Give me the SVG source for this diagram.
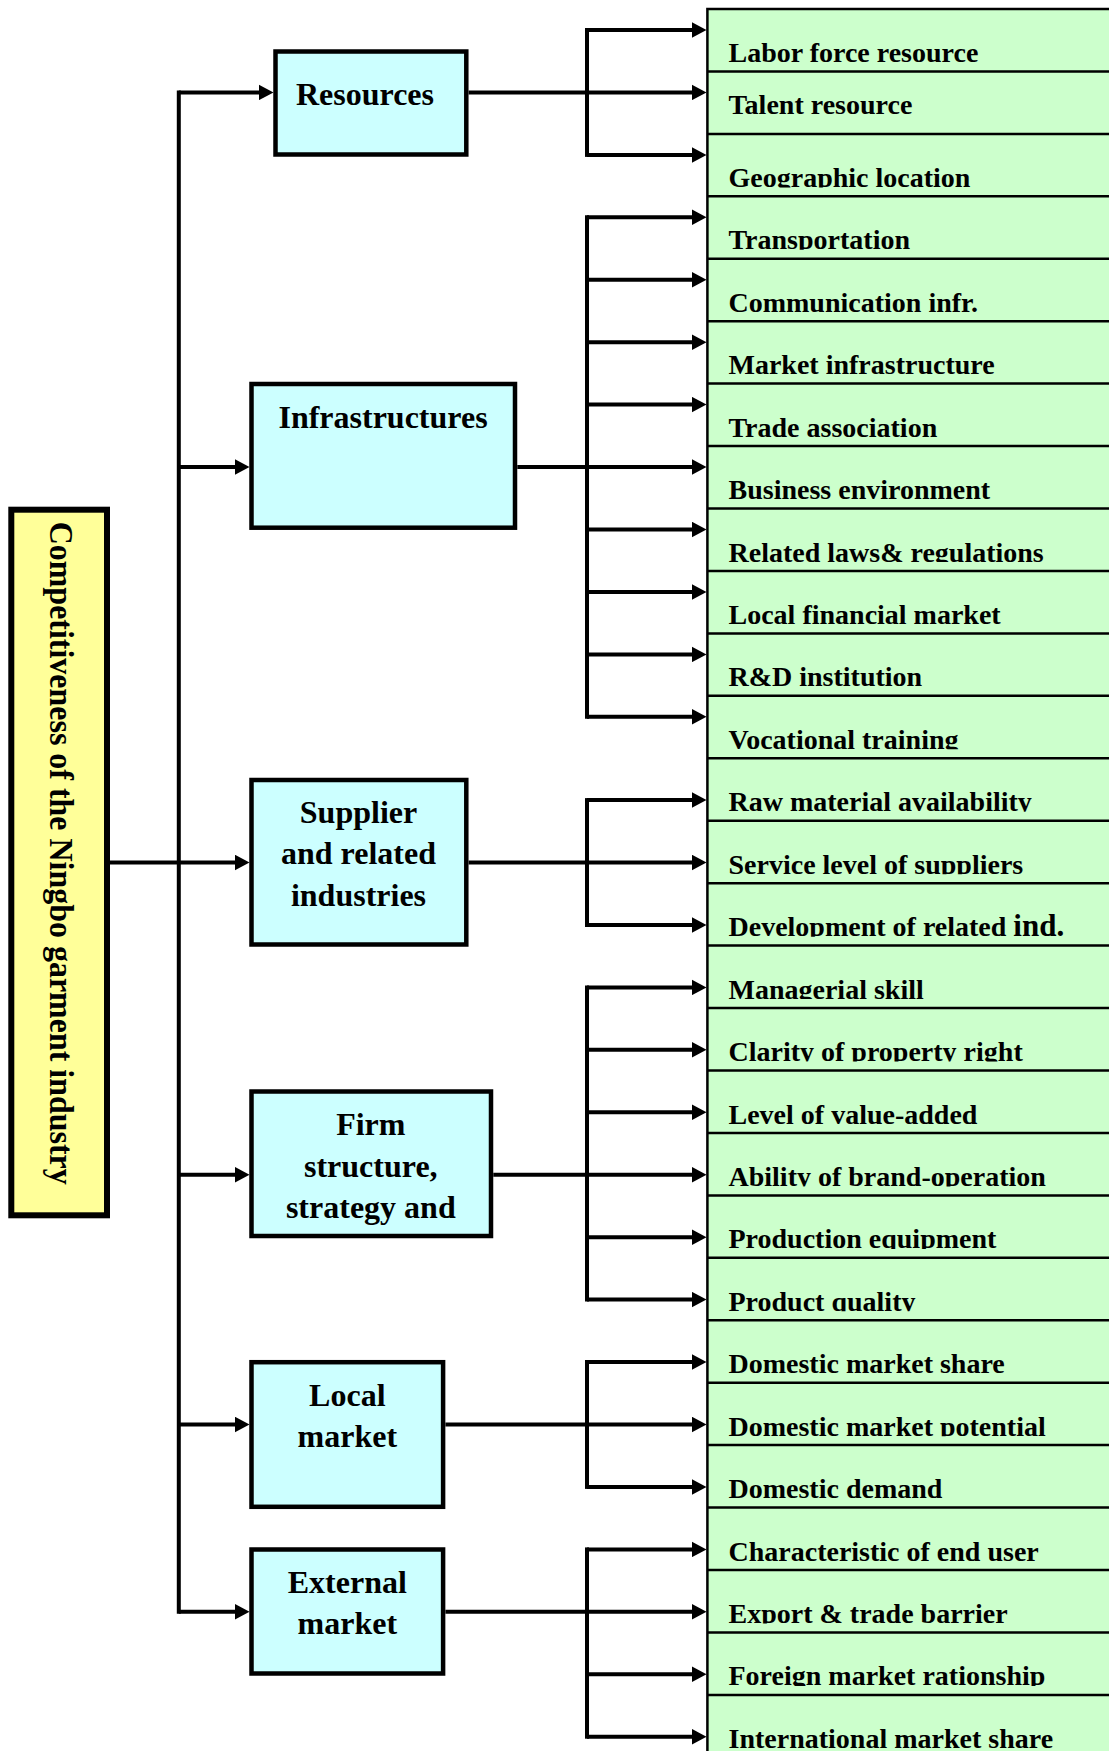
<svg xmlns="http://www.w3.org/2000/svg" width="1109" height="1751" viewBox="0 0 1109 1751">
<style>
.box{fill:#CCFFFF;stroke:#000;stroke-width:4.5}
.root{fill:#FFFF99;stroke:#000;stroke-width:6}
.col{fill:#CCFFCC;stroke:#000;stroke-width:2.5}
.sep{stroke:#000;stroke-width:2.5}
.lbl{font-family:"Liberation Serif","Times New Roman",serif;font-weight:bold;font-size:32px;fill:#000;text-anchor:middle}
.item{font-family:"Liberation Serif","Times New Roman",serif;font-weight:bold;font-size:28px;fill:#000}
.title{font-family:"Liberation Serif","Times New Roman",serif;font-weight:bold;font-size:34px;fill:#000}
.br{stroke:#000;stroke-width:4;fill:none;stroke-linecap:square}
.ar{stroke:#000;stroke-width:4;fill:none;marker-end:url(#ah)}
</style>
<defs>
<marker id="ah" markerUnits="userSpaceOnUse" viewBox="0 0 16 16" markerWidth="16" markerHeight="16" refX="7.5" refY="8" orient="auto">
<path d="M0,0 L15,8 L0,16 z" fill="#000"/>
</marker>
<clipPath id="rowclip">
<rect x="700" y="9" width="420" height="53.5"/>
<rect x="700" y="71.4" width="420" height="62"/>
<rect x="700" y="133.9" width="420" height="53.5"/>
<rect x="700" y="196.3" width="420" height="53.5"/>
<rect x="700" y="258.8" width="420" height="53.5"/>
<rect x="700" y="321.2" width="420" height="53.5"/>
<rect x="700" y="383.6" width="420" height="53.5"/>
<rect x="700" y="446.1" width="420" height="53.5"/>
<rect x="700" y="508.5" width="420" height="53.5"/>
<rect x="700" y="571" width="420" height="53.5"/>
<rect x="700" y="633.4" width="420" height="53.5"/>
<rect x="700" y="695.8" width="420" height="53.5"/>
<rect x="700" y="758.3" width="420" height="53.5"/>
<rect x="700" y="820.7" width="420" height="53.5"/>
<rect x="700" y="883.2" width="420" height="53.5"/>
<rect x="700" y="945.6" width="420" height="53.5"/>
<rect x="700" y="1008" width="420" height="53.5"/>
<rect x="700" y="1070.5" width="420" height="53.5"/>
<rect x="700" y="1132.9" width="420" height="53.5"/>
<rect x="700" y="1195.4" width="420" height="53.5"/>
<rect x="700" y="1257.8" width="420" height="53.5"/>
<rect x="700" y="1320.2" width="420" height="53.5"/>
<rect x="700" y="1382.7" width="420" height="53.5"/>
<rect x="700" y="1445.1" width="420" height="53.5"/>
<rect x="700" y="1507.6" width="420" height="53.5"/>
<rect x="700" y="1570" width="420" height="53.5"/>
<rect x="700" y="1632.4" width="420" height="53.5"/>
<rect x="700" y="1694.9" width="420" height="53.5"/>
</clipPath>
</defs>

<g id="factors">
<rect class="col" x="707.4" y="9" width="420" height="1760"/>
<g id="separators">
<line class="sep" x1="707.4" y1="71.4" x2="1109" y2="71.4"/>
<line class="sep" x1="707.4" y1="133.9" x2="1109" y2="133.9"/>
<line class="sep" x1="707.4" y1="196.3" x2="1109" y2="196.3"/>
<line class="sep" x1="707.4" y1="258.8" x2="1109" y2="258.8"/>
<line class="sep" x1="707.4" y1="321.2" x2="1109" y2="321.2"/>
<line class="sep" x1="707.4" y1="383.6" x2="1109" y2="383.6"/>
<line class="sep" x1="707.4" y1="446.1" x2="1109" y2="446.1"/>
<line class="sep" x1="707.4" y1="508.5" x2="1109" y2="508.5"/>
<line class="sep" x1="707.4" y1="571" x2="1109" y2="571"/>
<line class="sep" x1="707.4" y1="633.4" x2="1109" y2="633.4"/>
<line class="sep" x1="707.4" y1="695.8" x2="1109" y2="695.8"/>
<line class="sep" x1="707.4" y1="758.3" x2="1109" y2="758.3"/>
<line class="sep" x1="707.4" y1="820.7" x2="1109" y2="820.7"/>
<line class="sep" x1="707.4" y1="883.2" x2="1109" y2="883.2"/>
<line class="sep" x1="707.4" y1="945.6" x2="1109" y2="945.6"/>
<line class="sep" x1="707.4" y1="1008" x2="1109" y2="1008"/>
<line class="sep" x1="707.4" y1="1070.5" x2="1109" y2="1070.5"/>
<line class="sep" x1="707.4" y1="1132.9" x2="1109" y2="1132.9"/>
<line class="sep" x1="707.4" y1="1195.4" x2="1109" y2="1195.4"/>
<line class="sep" x1="707.4" y1="1257.8" x2="1109" y2="1257.8"/>
<line class="sep" x1="707.4" y1="1320.2" x2="1109" y2="1320.2"/>
<line class="sep" x1="707.4" y1="1382.7" x2="1109" y2="1382.7"/>
<line class="sep" x1="707.4" y1="1445.1" x2="1109" y2="1445.1"/>
<line class="sep" x1="707.4" y1="1507.6" x2="1109" y2="1507.6"/>
<line class="sep" x1="707.4" y1="1570" x2="1109" y2="1570"/>
<line class="sep" x1="707.4" y1="1632.4" x2="1109" y2="1632.4"/>
<line class="sep" x1="707.4" y1="1694.9" x2="1109" y2="1694.9"/>
</g>
<g clip-path="url(#rowclip)">
<text id="f01" class="item" x="728.5" y="62">Labor force resource</text>
<text id="f02" class="item" x="728.5" y="113.7">Talent resource</text>
<text id="f03" class="item" x="728.5" y="186.9">Geographic location</text>
<text id="f04" class="item" x="728.5" y="249.3">Transportation</text>
<text id="f05" class="item" x="728.5" y="311.8">Communication infr.</text>
<text id="f06" class="item" x="728.5" y="374.2">Market infrastructure</text>
<text id="f07" class="item" x="728.5" y="436.6">Trade association</text>
<text id="f08" class="item" x="728.5" y="499.1">Business environment</text>
<text id="f09" class="item" x="728.5" y="561.5">Related laws&amp; regulations</text>
<text id="f10" class="item" x="728.5" y="624">Local financial market</text>
<text id="f11" class="item" x="728.5" y="686.4">R&amp;D institution</text>
<text id="f12" class="item" x="728.5" y="748.8">Vocational training</text>
<text id="f13" class="item" x="728.5" y="811.3">Raw material availability</text>
<text id="f14" class="item" x="728.5" y="873.7">Service level of suppliers</text>
<text id="f15" class="item" x="728.5" y="936.2">Development of related <tspan font-size="31">ind.</tspan></text>
<text id="f16" class="item" x="728.5" y="998.6">Managerial skill</text>
<text id="f17" class="item" x="728.5" y="1061">Clarity of property right</text>
<text id="f18" class="item" x="728.5" y="1123.5">Level of value-added</text>
<text id="f19" class="item" x="728.5" y="1185.9">Ability of brand-operation</text>
<text id="f20" class="item" x="728.5" y="1248.4">Production equipment</text>
<text id="f21" class="item" x="728.5" y="1310.8">Product quality</text>
<text id="f22" class="item" x="728.5" y="1373.2">Domestic market share</text>
<text id="f23" class="item" x="728.5" y="1435.7">Domestic market potential</text>
<text id="f24" class="item" x="728.5" y="1498.1">Domestic demand</text>
<text id="f25" class="item" x="728.5" y="1560.6">Characteristic of end user</text>
<text id="f26" class="item" x="728.5" y="1623">Export &amp; trade barrier</text>
<text id="f27" class="item" x="728.5" y="1685.4">Foreign market rationship</text>
<text id="f28" class="item" x="728.5" y="1747.9">International market share</text>
</g>
</g>

<g id="connectors">
<line class="ar" x1="110" y1="862.5" x2="242" y2="862.5"/>
<line class="br" x1="178.8" y1="92.4" x2="178.8" y2="1611.8"/>
<line class="ar" x1="178.8" y1="92.4" x2="266" y2="92.4"/>
<line class="ar" x1="178.8" y1="467.1" x2="242" y2="467.1"/>
<line class="ar" x1="178.8" y1="1174.7" x2="242" y2="1174.7"/>
<line class="ar" x1="178.8" y1="1424.5" x2="242" y2="1424.5"/>
<line class="ar" x1="178.8" y1="1611.8" x2="242" y2="1611.8"/>
<line class="br" x1="587" y1="30" x2="587" y2="154.9"/>
<line class="ar" x1="468.6" y1="92.4" x2="699" y2="92.4"/>
<line class="ar" x1="587" y1="30" x2="699" y2="30"/>
<line class="ar" x1="587" y1="154.9" x2="699" y2="154.9"/>
<line class="br" x1="587" y1="217.3" x2="587" y2="716.8"/>
<line class="ar" x1="517.3" y1="467.1" x2="699" y2="467.1"/>
<line class="ar" x1="587" y1="217.3" x2="699" y2="217.3"/>
<line class="ar" x1="587" y1="279.8" x2="699" y2="279.8"/>
<line class="ar" x1="587" y1="342.2" x2="699" y2="342.2"/>
<line class="ar" x1="587" y1="404.6" x2="699" y2="404.6"/>
<line class="ar" x1="587" y1="529.5" x2="699" y2="529.5"/>
<line class="ar" x1="587" y1="592" x2="699" y2="592"/>
<line class="ar" x1="587" y1="654.4" x2="699" y2="654.4"/>
<line class="ar" x1="587" y1="716.8" x2="699" y2="716.8"/>
<line class="br" x1="587" y1="800.1" x2="587" y2="925"/>
<line class="ar" x1="468.6" y1="862.5" x2="699" y2="862.5"/>
<line class="ar" x1="587" y1="800.1" x2="699" y2="800.1"/>
<line class="ar" x1="587" y1="925" x2="699" y2="925"/>
<line class="br" x1="587" y1="987.4" x2="587" y2="1299.6"/>
<line class="ar" x1="493.3" y1="1174.7" x2="699" y2="1174.7"/>
<line class="ar" x1="587" y1="987.4" x2="699" y2="987.4"/>
<line class="ar" x1="587" y1="1049.8" x2="699" y2="1049.8"/>
<line class="ar" x1="587" y1="1112.3" x2="699" y2="1112.3"/>
<line class="ar" x1="587" y1="1237.2" x2="699" y2="1237.2"/>
<line class="ar" x1="587" y1="1299.6" x2="699" y2="1299.6"/>
<line class="br" x1="587" y1="1362" x2="587" y2="1486.9"/>
<line class="ar" x1="445.4" y1="1424.5" x2="699" y2="1424.5"/>
<line class="ar" x1="587" y1="1362" x2="699" y2="1362"/>
<line class="ar" x1="587" y1="1486.9" x2="699" y2="1486.9"/>
<line class="br" x1="587" y1="1549.4" x2="587" y2="1736.7"/>
<line class="ar" x1="445.4" y1="1611.8" x2="699" y2="1611.8"/>
<line class="ar" x1="587" y1="1549.4" x2="699" y2="1549.4"/>
<line class="ar" x1="587" y1="1674.2" x2="699" y2="1674.2"/>
<line class="ar" x1="587" y1="1736.7" x2="699" y2="1736.7"/>
</g>

<g id="root">
<rect class="root" x="11.3" y="509.7" width="95.7" height="705.6"/>
<text class="title" transform="translate(50,521.7) rotate(90)" x="0" y="0" textLength="663" lengthAdjust="spacingAndGlyphs">Competitiveness of the Ningbo garment industry</text>
</g>

<g id="resources">
<rect class="box" x="275.5" y="51.5" width="190.8" height="103"/>
<text class="lbl" x="365" y="104.5">Resources</text>
</g>
<g id="infrastructures">
<rect class="box" x="251.5" y="384" width="263.5" height="143.7"/>
<text class="lbl" x="383" y="428.3">Infrastructures</text>
</g>
<g id="supplier">
<rect class="box" x="251.5" y="780" width="214.8" height="164.5"/>
<text class="lbl" x="358.5" y="822.5">Supplier</text>
<text class="lbl" x="358.5" y="864">and related</text>
<text class="lbl" x="358.5" y="905.5">industries</text>
</g>
<g id="firm">
<rect class="box" x="251.5" y="1091.5" width="239.5" height="144.5"/>
<text class="lbl" x="370.8" y="1135">Firm</text>
<text class="lbl" x="370.8" y="1176.7">structure,</text>
<text class="lbl" x="370.8" y="1217.5">strategy and</text>
</g>
<g id="local-market">
<rect class="box" x="251.5" y="1362.2" width="191.6" height="144.6"/>
<text class="lbl" x="347.3" y="1406">Local</text>
<text class="lbl" x="347.3" y="1447">market</text>
</g>
<g id="external-market">
<rect class="box" x="251.5" y="1549.5" width="191.6" height="124"/>
<text class="lbl" x="347.3" y="1593">External</text>
<text class="lbl" x="347.3" y="1633.5">market</text>
</g>
</svg>
